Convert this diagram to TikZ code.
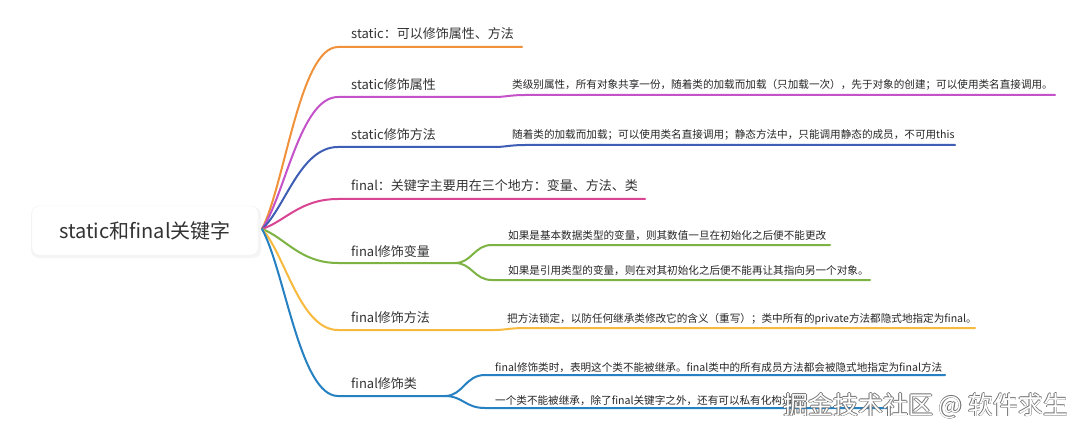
\documentclass[tikz,border=0pt]{standalone}
\usepackage{fontspec}
\setmainfont{Noto Sans CJK SC}
\definecolor{cOrange}{HTML}{F0923B}
\definecolor{cPurple}{HTML}{C452C9}
\definecolor{cNavy}{HTML}{3E5DB5}
\definecolor{cPink}{HTML}{D94592}
\definecolor{cGreen}{HTML}{7CB342}
\definecolor{cYellow}{HTML}{F7BA3E}
\definecolor{cBlue}{HTML}{2681C2}
\definecolor{txt}{HTML}{333333}
\tikzset{
  rootbox/.style={rounded corners=7pt, fill=white, draw=black!5, minimum width=226pt, minimum height=49pt, inner sep=0pt, text=txt, font=\fontsize{20}{24}\selectfont},
  lbl/.style={anchor=base west, inner sep=0pt, text=txt, font=\fontsize{13}{15}\selectfont},
  desc/.style={anchor=base west, inner sep=0pt, text=black!85, font=\fontsize{10.6}{12}\selectfont},
  br/.style={line width=2pt, line cap=round, draw=#1},
  wm/.style={anchor=base west, inner sep=0pt, font=\fontsize{25}{28}\selectfont}
}
\begin{document}
\begin{tikzpicture}[x=1pt,y=-1pt]
\useasboundingbox[fill=white] (0,0) rectangle (1080,433);
% root
\fill[black!4, rounded corners=8pt] (31,207) rectangle (261,258);
\node[rootbox] (root) at (145,230.5) {static和final关键字};
\coordinate (r) at (262,229);

% labels
\node[lbl] (b1) at (351,39) {static：可以修饰属性、方法};
\node[lbl] (b2) at (351,89.5) {static修饰属性};
\node[lbl] (b3) at (351,139.5) {static修饰方法};
\node[lbl] (b4) at (351,191) {final：关键字主要用在三个地方：变量、方法、类};
\node[lbl] (b5) at (351,256.5) {final修饰变量};
\node[lbl] (b6) at (351,322.5) {final修饰方法};
\node[lbl] (b7) at (351,388) {final修饰类};

% descriptions
\node[desc] (d2) at (512,89) {类级别属性，所有对象共享一份，随着类的加载而加载（只加载一次），先于对象的创建；可以使用类名直接调用。};
\node[desc] (d3) at (512,139) {随着类的加载而加载；可以使用类名直接调用；静态方法中，只能调用静态的成员，不可用this};
\node[desc] (d5a) at (508,240) {如果是基本数据类型的变量，则其数值一旦在初始化之后便不能更改};
\node[desc] (d5b) at (508,274) {如果是引用类型的变量，则在对其初始化之后便不能再让其指向另一个对象。};
\node[desc] (d6) at (507,322) {把方法锁定，以防任何继承类修改它的含义（重写）；类中所有的private方法都隐式地指定为final。};
\node[desc] (d7a) at (495,371) {final修饰类时，表明这个类不能被继承。final类中的所有成员方法都会被隐式地指定为final方法};
\node[desc] (d7b) at (495,404) {一个类不能被继承，除了final关键字之外，还有可以私有化构造器。};

% coordinates of underline ends
\coordinate (s1) at (338,47);  \coordinate (e1) at (522,47);
\coordinate (s2) at (338,97);  \coordinate (m2) at (495,97); \coordinate (e2) at (1055,95);
\coordinate (s3) at (338,147); \coordinate (m3) at (495,147); \coordinate (e3) at (955,145);
\coordinate (s4) at (338,199); \coordinate (e4) at (645,199);
\coordinate (s5) at (338,263); \coordinate (f5) at (455,263);
\coordinate (u5) at (492,245); \coordinate (ue5) at (830,245);
\coordinate (l5) at (492,280); \coordinate (le5) at (870,280);
\coordinate (s6) at (338,330); \coordinate (m6) at (495,330); \coordinate (e6) at (975,328);
\coordinate (s7) at (338,396); \coordinate (f7) at (445,396);
\coordinate (u7) at (485,375); \coordinate (ue7) at (945,375);
\coordinate (l7) at (485,408); \coordinate (le7) at (887,408);

% branches
\draw[br=cOrange] (r) .. controls (285,184) and (300,47) .. (s1) -- (e1);
\draw[br=cPurple] (r) .. controls (285,196) and (300,97) .. (s2) -- (m2) .. controls (505,97) and (510,95) .. (525,95) -- (e2);
\draw[br=cNavy] (r) .. controls (285,208.5) and (300,147) .. (s3) -- (m3) .. controls (505,147) and (510,145) .. (525,145) -- (e3);
\draw[br=cPink] (r) .. controls (285,221.5) and (300,199) .. (s4) -- (e4);
\draw[br=cGreen] (r) .. controls (285,237.5) and (300,263) .. (s5) -- (f5);
\draw[br=cGreen] (f5) .. controls (472,263) and (474,245) .. (u5) -- (ue5);
\draw[br=cGreen] (f5) .. controls (472,263) and (474,280) .. (l5) -- (le5);
\draw[br=cYellow] (r) .. controls (285,254) and (300,330) .. (s6) -- (m6) .. controls (505,330) and (510,328) .. (525,328) -- (e6);
\draw[br=cBlue] (r) .. controls (285,271) and (300,396) .. (s7) -- (f7);
\draw[br=cBlue] (f7) .. controls (463,396) and (465,375) .. (u7) -- (ue7);
\draw[br=cBlue] (f7) .. controls (463,396) and (465,408) .. (l7) -- (le7);

% watermark
\foreach \dx/\dy in {-0.7/0,0.7/0,0/-0.7,0/0.7,0.9/0.9}{
  \node[wm, text=black!55] at (783+\dx,414+\dy) {掘金技术社区 @ 软件求生};
}
\node[wm, text=white] (wmk) at (783,414) {掘金技术社区 @ 软件求生};
\end{tikzpicture}
\end{document}
